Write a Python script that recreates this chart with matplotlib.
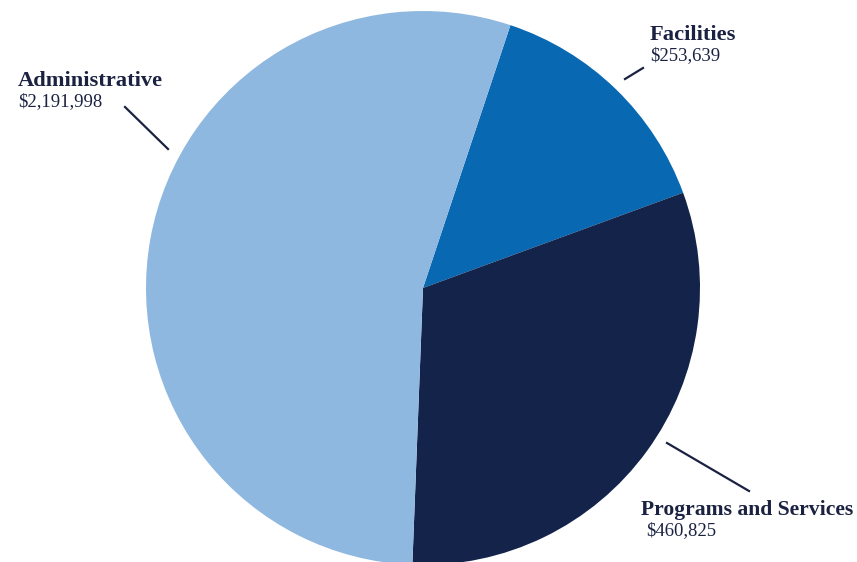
import matplotlib
matplotlib.use("Agg")
import matplotlib.pyplot as plt

categories = ["Facilities", "Programs and Services", "Administrative"]
value_labels = ["$253,639", "$460,825", "$2,191,998"]
# slice shares as drawn in the picture (percent)
shares = [14.3, 31.2, 54.5]
colors = ["#0868b2", "#13234a", "#8fb8e0"]

W, H = 857, 562
fig = plt.figure(figsize=(W / 100, H / 100), dpi=100)
cx, cy, r = 423, 288, 277
ax = fig.add_axes([(cx - r) / W, (H - cy - r) / H, 2 * r / W, 2 * r / H])
ax.pie(shares, colors=colors, startangle=71.6, counterclock=False, radius=1,
       wedgeprops=dict(linewidth=0))
ax.set_xlim(-1, 1)
ax.set_ylim(-1, 1)
ax.set_aspect("equal")
ax.axis("off")

tc = "#1b2241"
font = "Liberation Serif"

def ft(x, y, s, **kw):
    fig.text(x / W, 1 - y / H, s, family=font, color=tc, va="baseline", ha="left", **kw)

def line(x0, y0, x1, y1):
    fig.add_artist(plt.Line2D([x0 / W, x1 / W], [1 - y0 / H, 1 - y1 / H], color=tc, lw=1.6))

# Administrative
ft(18, 86, categories[2], fontsize=16.2, fontweight="bold")
ft(18, 106, value_labels[2], fontsize=13.5)
line(125, 107, 168, 149)
# Facilities
ft(650, 40, categories[0], fontsize=16.2, fontweight="bold")
ft(650, 60, value_labels[0], fontsize=13.5)
line(625, 79, 643, 68)
# Programs and Services
ft(641, 515, categories[1], fontsize=15.6, fontweight="bold")
ft(646, 535, value_labels[1], fontsize=13.5)
line(667, 443, 749, 491)

fig.savefig("out.png", dpi=100, facecolor="white")
